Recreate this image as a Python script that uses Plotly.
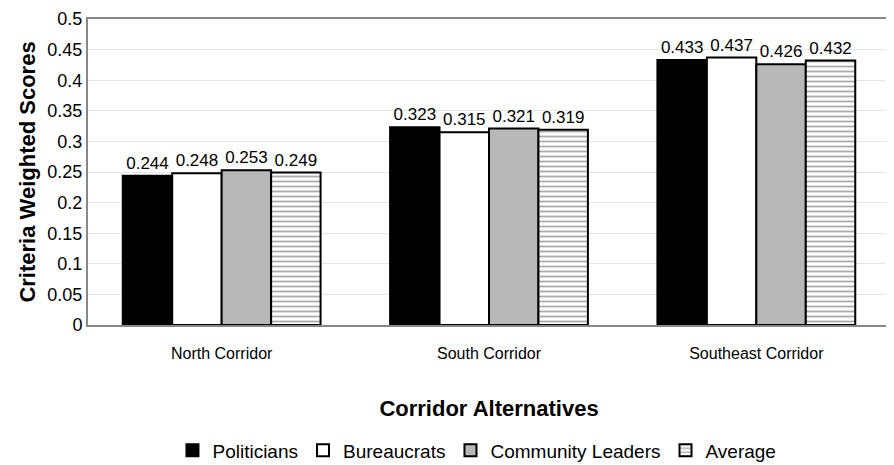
import plotly.graph_objects as go

categories = ["North Corridor", "South Corridor", "Southeast Corridor"]
politicians = [0.244, 0.323, 0.433]
bureaucrats = [0.248, 0.315, 0.437]
community = [0.253, 0.321, 0.426]
average = [0.249, 0.319, 0.432]
ytick_vals = [0, 0.05, 0.1, 0.15, 0.2, 0.25, 0.3, 0.35, 0.4, 0.45, 0.5]
ytick_text = ["0", "0.05", "0.1", "0.15", "0.2", "0.25", "0.3", "0.35", "0.4", "0.45", "0.5"]

series = [
    ("Politicians", politicians, dict(color="#000000")),
    ("Bureaucrats", bureaucrats, dict(color="#ffffff")),
    ("Community Leaders", community, dict(color="#b8b8b8")),
    ("Average", average, dict(color="#ffffff", pattern=dict(shape="-", fgcolor="#555555", size=5, solidity=0.35))),
]

fig = go.Figure()
for name, vals, m in series:
    fig.add_trace(go.Bar(
        name=name, x=categories, y=vals,
        text=[f"{v:.3f}" for v in vals], textposition="outside",
        textfont=dict(family="Liberation Sans, Arial", size=17, color="#000"),
        cliponaxis=False,
        marker=dict(**m, line=dict(color="#000000", width=2)),
    ))

fig.update_layout(
    width=886, height=457,
    barmode="group", bargap=0.26, bargroupgap=0,
    plot_bgcolor="#ffffff", paper_bgcolor="#ffffff",
    margin=dict(l=80, r=4, t=11, b=140, autoexpand=False),
    font=dict(family="Liberation Sans, Arial", color="#000"),
    uniformtext=dict(minsize=17, mode="show"),
    xaxis=dict(
        showline=True, linecolor="#888888", linewidth=2, mirror=True,
        tickfont=dict(size=16), ticks="", ticklabelstandoff=13,
        title=dict(text="<b>Corridor Alternatives</b>", font=dict(size=22), standoff=39),
    ),
    yaxis=dict(
        range=[0, 0.5], tickvals=ytick_vals, ticktext=ytick_text,
        showline=True, linecolor="#888888", linewidth=2, mirror=True,
        gridcolor="#e6e6e6", gridwidth=1, ticklabeloverflow="allow",
        tickfont=dict(size=18), ticks="",
        title=dict(text="<b>Criteria Weighted Scores</b>", font=dict(size=22), standoff=6),
    ),
    legend=dict(orientation="h", x=0.485, xanchor="center", y=-0.41, yanchor="middle",
                font=dict(size=19), itemwidth=30, traceorder="normal"),
    showlegend=True,
)

fig.write_html("out.html")
